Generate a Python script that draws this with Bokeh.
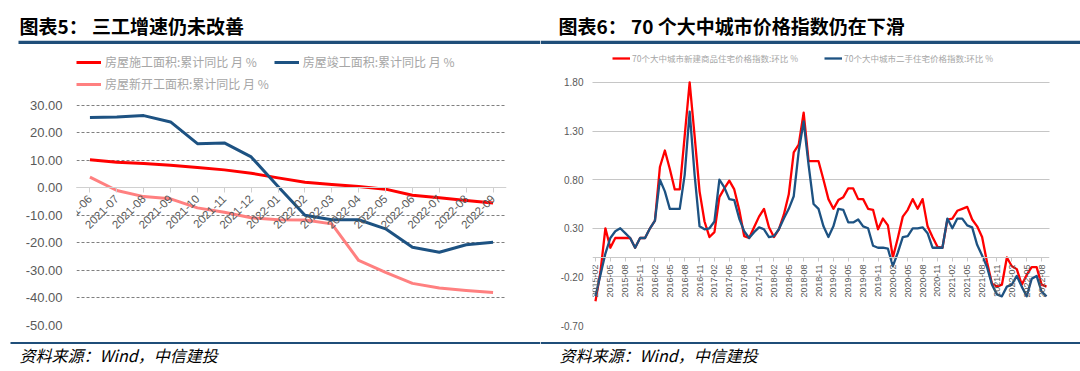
import math
import pandas as pd
from bokeh.plotting import figure
from bokeh.models import (Range1d, FactorRange, FixedTicker, NumeralTickFormatter,
                          Legend, LegendItem, Label, ColumnDataSource)
from bokeh.layouts import row, column
from bokeh.embed import file_html
from bokeh.resources import INLINE

# ---------------- data: left chart ----------------
left_months = ["2021-06", "2021-07", "2021-08", "2021-09", "2021-10", "2021-11", "2021-12",
               "2022-01", "2022-02", "2022-03", "2022-04", "2022-05", "2022-06", "2022-07",
               "2022-08", "2022-09"]
construction = [10.2, 9.3, 8.8, 8.2, 7.4, 6.5, 5.3, 3.6, 2.0, 1.2, 0.5, -0.5, -2.7, -3.6, -4.6, -5.5]
completion = [25.5, 25.7, 26.2, 23.9, 16.0, 16.3, 11.2, 0.5, -10.0, -11.6, -11.6, -14.9, -21.6, -23.4, -20.7, -19.8]
new_start = [3.9, -1.0, -3.2, -4.0, -7.3, -8.9, -10.9, -11.6, -11.7, -13.1, -26.4, -30.7, -34.7, -36.4, -37.3, -38.0]
left_names = ["房屋施工面积:累计同比 月 %", "房屋竣工面积:累计同比 月 %", "房屋新开工面积:累计同比 月 %"]
left_ticks = [-50, -40, -30, -20, -10, 0, 10, 20, 30]

# ---------------- data: right chart ----------------
right_months = list(pd.date_range("2015-02-01", periods=92, freq="MS").strftime("%Y-%m"))
new_home = [-0.45, -0.15, 0.30, 0.10, 0.20, 0.20, 0.20, 0.20, 0.10, 0.20,
            0.20, 0.30, 0.38, 0.93, 1.10, 0.91, 0.70, 0.70, 1.25, 1.80,
            1.25, 0.68, 0.37, 0.21, 0.26, 0.62, 0.71, 0.79, 0.70, 0.49,
            0.22, 0.20, 0.31, 0.42, 0.50, 0.31, 0.21, 0.29, 0.44, 0.65,
            1.08, 1.16, 1.49, 0.99, 0.99, 0.99, 0.80, 0.60, 0.50, 0.59,
            0.62, 0.71, 0.71, 0.60, 0.60, 0.50, 0.49, 0.29, 0.40, 0.33,
            0.00, 0.20, 0.42, 0.49, 0.60, 0.50, 0.60, 0.32, 0.21, 0.11,
            0.10, 0.39, 0.40, 0.48, 0.50, 0.52, 0.39, 0.32, 0.21, -0.05,
            -0.27, -0.30, -0.28, 0.00, -0.09, -0.12, -0.28, -0.18, -0.10, -0.10,
            -0.28, -0.30]
second_hand = [-0.40, -0.18, 0.04, 0.20, 0.27, 0.30, 0.25, 0.20, 0.10, 0.20,
               0.20, 0.30, 0.38, 0.80, 0.68, 0.50, 0.50, 0.50, 0.85, 1.50,
               0.85, 0.32, 0.29, 0.30, 0.37, 0.80, 0.72, 0.60, 0.59, 0.40,
               0.27, 0.20, 0.26, 0.31, 0.29, 0.21, 0.22, 0.29, 0.40, 0.50,
               0.63, 1.09, 1.40, 0.95, 0.55, 0.50, 0.32, 0.21, 0.32, 0.50,
               0.49, 0.36, 0.36, 0.39, 0.32, 0.30, 0.12, 0.10, 0.10, 0.09,
               -0.09, 0.05, 0.21, 0.22, 0.30, 0.30, 0.31, 0.25, 0.10, 0.10,
               0.10, 0.40, 0.30, 0.40, 0.40, 0.33, 0.31, 0.13, 0.02, -0.10,
               -0.28, -0.38, -0.40, -0.30, -0.28, -0.19, -0.30, -0.40, -0.22, -0.19,
               -0.35, -0.40]
right_names = ["70个大中城市新建商品住宅价格指数:环比 %", "70个大中城市二手住宅价格指数:环比 %"]
right_ticks = [-0.7, -0.2, 0.3, 0.8, 1.3, 1.8]

titles = ["图表5： 三工增速仍未改善", "图表6： 70 个大中城市价格指数仍在下滑"]
source_note = "资料来源：Wind，中信建投"

# ---------------- styles ----------------
RED = "#FF0000"
BLUE = "#1D5282"
PINK = "#FF8080"
RULE = "#1F4E79"
CJK = "Noto Sans CJK SC"
NUM = "Liberation Sans"
PW = 540


def blank(width, height):
    p = figure(width=width, height=height, x_range=Range1d(0, width), y_range=Range1d(0, height),
               output_backend="svg", toolbar_location=None, x_axis_location=None,
               y_axis_location=None, min_border=0)
    p.grid.visible = False
    p.outline_line_color = None
    return p


def title_fig(text, x0, x_text):
    p = blank(PW, 44)
    p.segment(x0=[x0], x1=[PW], y0=[2], y1=[2], line_color=RULE, line_width=3.5)
    p.add_layout(Label(x=x_text, y=19, text=text, text_font=CJK, text_font_style="bold",
                       text_font_size="19px", text_baseline="middle", text_color="#000000"))
    return p


def footer_fig(text, x0, x_text):
    p = blank(PW, 36)
    p.segment(x0=[x0], x1=[PW], y0=[27.5], y1=[27.5], line_color=RULE, line_width=2)
    p.add_layout(Label(x=x_text, y=16, text=text, text_font=CJK, text_font_style="italic",
                       text_font_size="16px", text_baseline="middle", text_color="#000000"))
    return p


def style_legend(leg, size, gw, gh, standoff, spacing):
    leg.label_text_font = CJK
    leg.label_text_font_size = size
    leg.label_text_color = "#a6a6a6"
    leg.glyph_width = gw
    leg.glyph_height = gh
    leg.label_height = gh
    leg.label_standoff = standoff
    leg.spacing = spacing
    leg.padding = 0
    leg.margin = 0
    leg.background_fill_alpha = 0
    leg.border_line_alpha = 0


# ---------------- left chart ----------------
srcL = ColumnDataSource(dict(m=left_months, a=construction, b=completion, c=new_start))
pL = figure(width=PW, height=290, x_range=FactorRange(factors=left_months), y_range=Range1d(-50, 48.75),
            output_backend="svg", toolbar_location=None,
            min_border_left=76, min_border_right=34, min_border_top=9, min_border_bottom=9)
pL.outline_line_color = None
pL.xgrid.visible = False
pL.ygrid.grid_line_color = "#7f7f7f"
pL.ygrid.grid_line_dash = "3 2"
pL.ygrid.grid_line_width = 1
pL.yaxis.ticker = FixedTicker(ticks=left_ticks)
pL.yaxis.formatter = NumeralTickFormatter(format="0.00")
pL.yaxis.axis_line_color = None
pL.yaxis.major_tick_line_color = None
pL.yaxis.minor_tick_line_color = None
pL.yaxis.major_tick_out = 0
pL.yaxis.minor_tick_out = 0
pL.yaxis.major_label_standoff = 14
pL.yaxis.major_label_text_font = NUM
pL.yaxis.major_label_text_font_size = "13px"
pL.yaxis.major_label_text_color = "#595959"
pL.xaxis.fixed_location = 0
pL.xaxis.axis_line_color = "#d0d0d0"
pL.xaxis.major_tick_line_color = "#d0d0d0"
pL.xaxis.major_tick_in = 0
pL.xaxis.major_tick_out = 5
pL.xaxis.major_label_orientation = math.pi / 4
pL.xaxis.major_label_standoff = 4
pL.xaxis.major_label_text_font = NUM
pL.xaxis.major_label_text_font_size = "11.5px"
pL.xaxis.major_label_text_color = "#595959"

rA = pL.line("m", "a", source=srcL, line_color=RED, line_width=3, line_join="round")
rC = pL.line("m", "c", source=srcL, line_color=PINK, line_width=3, line_join="round")
rB = pL.line("m", "b", source=srcL, line_color=BLUE, line_width=3, line_join="round")

legL = Legend(items=[LegendItem(label=left_names[0], renderers=[rA]),
                     LegendItem(label=left_names[1], renderers=[rB]),
                     LegendItem(label=left_names[2], renderers=[rC])],
              location="top_left", orientation="horizontal", ncols=2)
style_legend(legL, "12px", 25, 14, 4, 5)
pL.add_layout(legL)

# ---------------- right chart ----------------
srcR = ColumnDataSource(dict(i=list(range(len(right_months))), a=new_home, b=second_hand))
pR = figure(width=PW, height=290, x_range=Range1d(-0.6, 91.6), y_range=Range1d(-0.7, 2.098),
            output_backend="svg", toolbar_location=None,
            min_border_left=52, min_border_right=31, min_border_top=0, min_border_bottom=5)
pR.outline_line_color = None
pR.xgrid.visible = False
pR.ygrid.grid_line_color = "#8c8c8c"
pR.ygrid.grid_line_dash = "1 1"
pR.ygrid.grid_line_width = 1
pR.yaxis.ticker = FixedTicker(ticks=right_ticks)
pR.yaxis.formatter = NumeralTickFormatter(format="0.00")
pR.yaxis.axis_line_color = None
pR.yaxis.major_tick_line_color = None
pR.yaxis.minor_tick_line_color = None
pR.yaxis.major_tick_out = 0
pR.yaxis.minor_tick_out = 0
pR.yaxis.major_label_standoff = 9
pR.yaxis.major_label_text_font = NUM
pR.yaxis.major_label_text_font_size = "10px"
pR.yaxis.major_label_text_color = "#595959"
tick_idx = list(range(0, len(right_months), 3))
pR.xaxis.ticker = FixedTicker(ticks=tick_idx)
pR.xaxis.major_label_overrides = {i: right_months[i] for i in tick_idx}
pR.xaxis.fixed_location = 0
pR.xaxis.axis_line_color = "#c8c8c8"
pR.xaxis.major_tick_line_color = "#c8c8c8"
pR.xaxis.minor_tick_line_color = None
pR.xaxis.major_tick_in = 0
pR.xaxis.major_tick_out = 4
pR.xaxis.major_label_orientation = math.pi / 2
pR.xaxis.major_label_standoff = 3
pR.xaxis.major_label_text_font = NUM
pR.xaxis.major_label_text_font_size = "9px"
pR.xaxis.major_label_text_color = "#595959"

r1 = pR.line("i", "a", source=srcR, line_color=RED, line_width=2.3, line_join="round")
r2 = pR.line("i", "b", source=srcR, line_color=BLUE, line_width=2.3, line_join="round")

legR = Legend(items=[LegendItem(label=right_names[0], renderers=[r1]),
                     LegendItem(label=right_names[1], renderers=[r2])],
              location=(20, 260), orientation="horizontal")
style_legend(legR, "8.5px", 18, 14, 2, 26)
pR.add_layout(legR)

# ---------------- layout ----------------
tL = title_fig(titles[0], 18, 19)
tR = title_fig(titles[1], 0, 18)
fL = footer_fig(source_note, 10, 19)
fR = footer_fig(source_note, 0, 19)

layout = column(row(tL, tR, spacing=0), row(pL, pR, spacing=0), row(fL, fR, spacing=0), spacing=0)

open("out.html", "w").write(file_html(layout, INLINE, "chart"))
